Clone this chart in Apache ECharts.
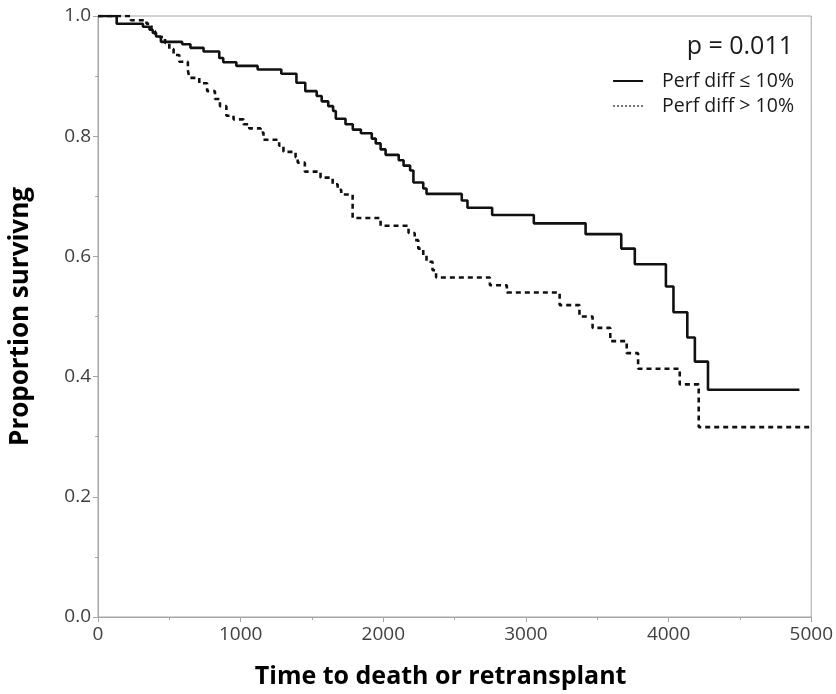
<!DOCTYPE html>
<html>
<head>
<meta charset="utf-8">
<script src="https://cdn.jsdelivr.net/npm/echarts@6/dist/echarts.min.js"></script>
<style>
  html, body { margin: 0; padding: 0; background: #fff; }
  #chart { width: 836px; height: 694px; }
</style>
</head>
<body>
<div id="chart"></div>
<script>
// Kaplan–Meier estimates: each value holds from its time onward
const lowDiffTimes = [0, 131, 315, 361, 384, 407, 441, 590, 648, 740, 850, 878, 970, 1119, 1285,
  1391, 1453, 1533, 1568, 1614, 1648, 1667, 1735, 1786, 1843, 1919, 1947, 1981, 2016, 2108,
  2142, 2188, 2211, 2280, 2303, 2550, 2590, 2763, 3055, 3418, 3668, 3763, 3981, 4034, 4131,
  4184, 4276, 4917];
const lowDiffSurv = [1.0, 0.987, 0.982, 0.977, 0.972, 0.966, 0.957, 0.953, 0.947, 0.941, 0.930, 0.923, 0.917, 0.911, 0.904,
  0.889, 0.875, 0.867, 0.858, 0.850, 0.842, 0.829, 0.820, 0.811, 0.805, 0.796, 0.788, 0.778, 0.769, 0.760,
  0.751, 0.743, 0.723, 0.713, 0.704, 0.693, 0.681, 0.669, 0.655, 0.637, 0.613, 0.587, 0.550, 0.507, 0.465,
  0.425, 0.378, 0.378];

const highDiffTimes = [0, 230, 340, 375, 400, 430, 470, 500, 530, 570, 630, 640, 710, 765, 820,
  855, 900, 950, 1020, 1060, 1140, 1160, 1270, 1300, 1385, 1400, 1450, 1560, 1645, 1680,
  1705, 1785, 1981, 2177, 2220, 2245, 2280, 2303, 2345, 2370, 2747, 2866, 3236, 3375, 3467,
  3591, 3706, 3786, 4078, 4211, 5000];
const highDiffSurv = [1.0, 0.993, 0.987, 0.975, 0.970, 0.965, 0.955, 0.945, 0.935, 0.924, 0.910, 0.897, 0.888, 0.875, 0.862,
  0.850, 0.834, 0.828, 0.820, 0.813, 0.806, 0.794, 0.784, 0.774, 0.765, 0.756, 0.741, 0.731, 0.720, 0.711,
  0.703, 0.664, 0.651, 0.639, 0.627, 0.613, 0.602, 0.591, 0.577, 0.565, 0.552, 0.540, 0.519, 0.500, 0.481,
  0.459, 0.439, 0.413, 0.387, 0.316, 0.316];

const seriesNames = ['Perf diff ≤ 10%', 'Perf diff > 10%'];
const pValueText = 'p = 0.011';
const xTitle = 'Time to death or retransplant';
const yTitle = 'Proportion survivng';

const pairs = (xs, ys) => xs.map((x, i) => [x, ys[i]]);

const FONT = '"Open Sans", "Noto Sans", sans-serif';
const AXIS_GRAY = '#a6a6a6';

const chart = echarts.init(document.getElementById('chart'), null, { renderer: 'canvas' });

chart.setOption({
  animation: false,
  backgroundColor: '#fff',
  color: ['#111', '#111'],
  textStyle: { fontFamily: FONT },
  title: {
    text: pValueText,
    right: 38,
    top: 29,
    textStyle: { fontFamily: FONT, fontSize: 25, fontWeight: 'normal', color: '#1a1a1a' }
  },
  legend: {
    orient: 'vertical',
    right: 37,
    top: 65,
    align: 'left',
    itemWidth: 30,
    itemHeight: 10,
    itemGap: 3,
    textStyle: { fontFamily: FONT, fontSize: 19.5, color: '#1a1a1a', lineHeight: 22, padding: [0, 0, 0, 14] },
    data: [
      { name: seriesNames[0], itemStyle: { opacity: 0 }, lineStyle: { width: 2, type: 'solid', color: '#111' } },
      { name: seriesNames[1], itemStyle: { opacity: 0 }, lineStyle: { width: 1.3, type: [2, 2], color: '#444' } }
    ]
  },
  grid: {
    left: 97.7,
    right: 13.3,
    top: 16,
    bottom: 73.3,
    show: true,
    borderColor: AXIS_GRAY,
    borderWidth: 1,
    containLabel: false
  },
  xAxis: {
    type: 'value',
    min: 0,
    max: 5000,
    interval: 1000,
    name: xTitle,
    nameLocation: 'middle',
    nameGap: 47,
    nameTextStyle: { fontFamily: FONT, fontSize: 25, fontWeight: 'bold', color: '#000', padding: [0, 28, 0, 0] },
    axisLine: { show: true, lineStyle: { color: AXIS_GRAY, width: 1 } },
    axisTick: { show: true, length: 5, lineStyle: { color: AXIS_GRAY } },
    minorTick: { show: true, splitNumber: 2, length: 3, lineStyle: { color: AXIS_GRAY } },
    axisLabel: { fontFamily: FONT, fontSize: 19, color: '#404040', margin: 8, formatter: v => String(v) },
    splitLine: { show: false }
  },
  yAxis: {
    type: 'value',
    min: 0,
    max: 1,
    interval: 0.2,
    name: yTitle,
    nameLocation: 'middle',
    nameGap: 64,
    nameTextStyle: { fontFamily: FONT, fontSize: 26, fontWeight: 'bold', color: '#000' },
    axisLine: { show: true, lineStyle: { color: AXIS_GRAY, width: 1 } },
    axisTick: { show: true, length: 5, lineStyle: { color: AXIS_GRAY } },
    minorTick: { show: true, splitNumber: 2, length: 3, lineStyle: { color: AXIS_GRAY } },
    axisLabel: { fontFamily: FONT, fontSize: 19, color: '#404040', margin: 7, formatter: v => v.toFixed(1) },
    splitLine: { show: false }
  },
  series: [
    {
      name: seriesNames[0],
      type: 'line',
      step: 'end',
      symbol: 'none',
      data: pairs(lowDiffTimes, lowDiffSurv),
      lineStyle: { color: '#111', width: 2.6, type: 'solid' },
      z: 3
    },
    {
      name: seriesNames[1],
      type: 'line',
      step: 'end',
      symbol: 'none',
      data: pairs(highDiffTimes, highDiffSurv),
      lineStyle: { color: '#111', width: 2.6, type: [5, 4] },
      z: 2
    }
  ]
});
</script>
</body>
</html>
